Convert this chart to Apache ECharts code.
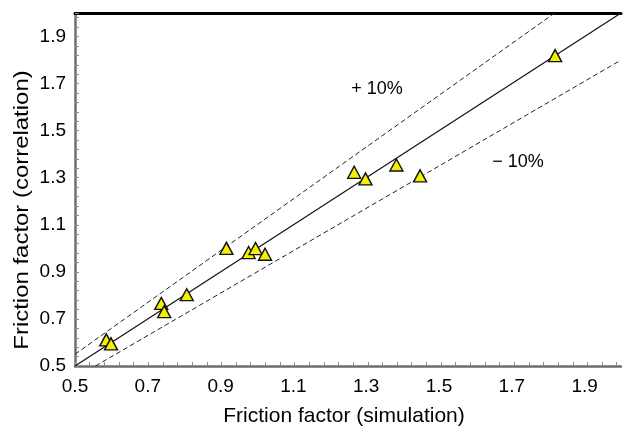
<!DOCTYPE html>
<html><head><meta charset="utf-8">
<script src="https://cdn.jsdelivr.net/npm/echarts@6/dist/echarts.min.js"></script>
<style>html,body{margin:0;padding:0;background:#fff}#c{width:624px;height:429px}</style>
</head><body><div id="c"></div>
<script>
// Data
const simulation  = [0.586, 0.599, 0.737, 0.745, 0.807, 0.916, 0.977, 0.996, 1.022, 1.267, 1.298, 1.383, 1.448, 1.819];
const correlation = [0.611, 0.594, 0.766, 0.731, 0.803, 1.000, 0.982, 0.999, 0.975, 1.323, 1.295, 1.354, 1.308, 1.819];
const parityX  = [0.5, 2.0];
const parityY  = [0.5, 2.0];
const plus10X  = [0.5, 1.818];
const plus10Y  = [0.55, 2.0];
const minus10X = [0.556, 2.0];
const minus10Y = [0.5, 1.8];
const xTickLabels = ['0.5', '0.7', '0.9', '1.1', '1.3', '1.5', '1.7', '1.9'];
const yTickLabels = ['0.5', '0.7', '0.9', '1.1', '1.3', '1.5', '1.7', '1.9'];
const xTitle = 'Friction factor (simulation)';
const yTitle = 'Friction factor (correlation)';
const plusLabel = '+ 10%';
const minusLabel = '\u2212 10%';

const FONT = "'Liberation Sans', Arial, sans-serif";
const pairs = (xs, ys) => xs.map((x, i) => [x, ys[i]]);

const chart = echarts.init(document.getElementById('c'), null, {renderer: 'canvas'});
const gridRect = {left: 75, top: 13, right: -6, bottom: 63};
const axisGray = '#6e6e6e';
const tickGray = '#8a8a8a';

chart.setOption({
  animation: false,
  backgroundColor: '#fff',
  grid: [Object.assign({}, gridRect), Object.assign({}, gridRect)],
  xAxis: [
    {
      type: 'value', gridIndex: 0, min: 0.5, max: 2.0, interval: 0.1, position: 'bottom',
      axisLine: {show: true, lineStyle: {color: axisGray, width: 2.5}},
      axisTick: {show: false},
      splitLine: {show: false},
      axisLabel: {
        margin: 11, color: '#000', fontFamily: FONT, fontSize: 19,
        formatter: v => xTickLabels.includes(v.toFixed(1)) ? v.toFixed(1) : ''
      }
    },
    {
      type: 'value', gridIndex: 0, min: 0.5, max: 2.0, position: 'top',
      axisLine: {show: true, lineStyle: {color: '#000', width: 3}},
      axisTick: {show: false}, axisLabel: {show: false}, splitLine: {show: false}
    },
    {
      type: 'value', gridIndex: 1, min: 0, max: 1.5, interval: 0.04, position: 'bottom',
      axisLine: {show: false},
      axisTick: {show: true, inside: true, length: 4, lineStyle: {color: tickGray, width: 1}},
      axisLabel: {show: false}, splitLine: {show: false}
    }
  ],
  yAxis: [
    {
      type: 'value', gridIndex: 0, min: 0.5, max: 2.0, interval: 0.1,
      axisLine: {show: true, lineStyle: {color: axisGray, width: 2.5}},
      axisTick: {show: false},
      splitLine: {show: false},
      axisLabel: {
        margin: 9, color: '#000', fontFamily: FONT, fontSize: 19,
        formatter: v => yTickLabels.includes(v.toFixed(1)) ? v.toFixed(1) : ''
      }
    },
    {
      type: 'value', gridIndex: 1, min: 0, max: 1.5, interval: 0.04,
      axisLine: {show: false},
      axisTick: {show: true, inside: true, length: 4, lineStyle: {color: tickGray, width: 1}},
      axisLabel: {show: false}, splitLine: {show: false}
    }
  ],
  series: [
    {
      type: 'line', xAxisIndex: 0, yAxisIndex: 0, data: pairs(parityX, parityY),
      symbol: 'none', lineStyle: {color: '#111', width: 1.2}, z: 2
    },
    {
      type: 'line', xAxisIndex: 0, yAxisIndex: 0, data: pairs(plus10X, plus10Y),
      symbol: 'none', lineStyle: {color: '#222', width: 1, type: [5, 3]}, z: 2
    },
    {
      type: 'line', xAxisIndex: 0, yAxisIndex: 0, data: pairs(minus10X, minus10Y),
      symbol: 'none', lineStyle: {color: '#222', width: 1, type: [5, 3]}, z: 2
    },
    {
      type: 'scatter', xAxisIndex: 0, yAxisIndex: 0, data: pairs(simulation, correlation),
      symbol: 'triangle', symbolSize: [13, 12],
      itemStyle: {color: '#f5f000', borderColor: '#111', borderWidth: 1.4, opacity: 1}, z: 5
    }
  ],
  graphic: [
    {
      type: 'text', x: 344, y: 416,
      style: {text: xTitle, font: '21px ' + FONT, fill: '#000', textAlign: 'center', textVerticalAlign: 'middle'}
    },
    {
      type: 'text', x: 22, y: 210, rotation: Math.PI / 2, scaleX: 1.14,
      style: {text: yTitle, font: '21px ' + FONT, fill: '#000', textAlign: 'center', textVerticalAlign: 'middle'}
    },
    {
      type: 'text', x: 377, y: 89,
      style: {text: plusLabel, font: '18px ' + FONT, fill: '#000', textAlign: 'center', textVerticalAlign: 'middle'}
    },
    {
      type: 'text', x: 518, y: 162,
      style: {text: minusLabel, font: '18px ' + FONT, fill: '#000', textAlign: 'center', textVerticalAlign: 'middle'}
    }
  ]
});
</script>
</body></html>
